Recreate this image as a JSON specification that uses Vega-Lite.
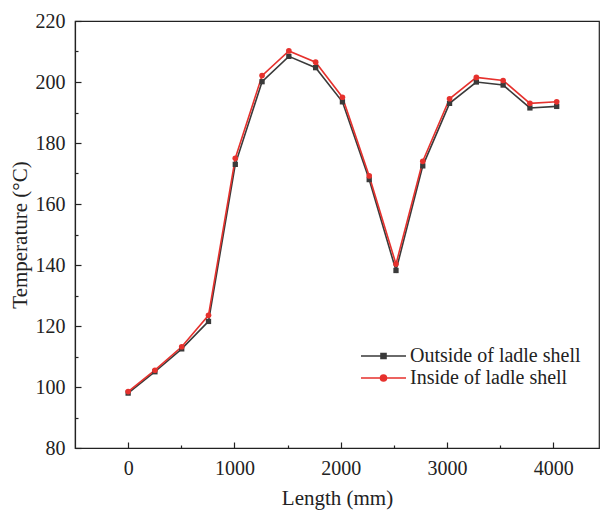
{
  "$schema": "https://vega.github.io/schema/vega-lite/v6.json",
  "width": 524,
  "height": 427,
  "autosize": {"type": "none"},
  "padding": {"left": 75, "top": 21, "right": 8, "bottom": 64},
  "background": "white",
  "config": {
    "view": {"stroke": "#222", "strokeWidth": 1.2},
    "font": "Liberation Serif",
    "axis": {"grid": false, "domainColor": "#222", "tickColor": "#222", "labelColor": "#222", "titleColor": "#222", "labelFont": "Liberation Serif", "titleFont": "Liberation Serif", "labelFontSize": 20, "titleFontSize": 21, "titleFontWeight": "normal", "domainWidth": 1.2, "tickWidth": 1.2}
  },
  "data": {"values": [
    {"x": 0, "s": "Outside of ladle shell", "t": 98.0},
    {"x": 252, "s": "Outside of ladle shell", "t": 105.0},
    {"x": 504, "s": "Outside of ladle shell", "t": 112.5},
    {"x": 756, "s": "Outside of ladle shell", "t": 121.5},
    {"x": 1008, "s": "Outside of ladle shell", "t": 173.0},
    {"x": 1260, "s": "Outside of ladle shell", "t": 200.1},
    {"x": 1512, "s": "Outside of ladle shell", "t": 208.4},
    {"x": 1764, "s": "Outside of ladle shell", "t": 204.7},
    {"x": 2016, "s": "Outside of ladle shell", "t": 193.5},
    {"x": 2268, "s": "Outside of ladle shell", "t": 168.0},
    {"x": 2520, "s": "Outside of ladle shell", "t": 138.2},
    {"x": 2772, "s": "Outside of ladle shell", "t": 172.5},
    {"x": 3024, "s": "Outside of ladle shell", "t": 193.0},
    {"x": 3276, "s": "Outside of ladle shell", "t": 200.0},
    {"x": 3528, "s": "Outside of ladle shell", "t": 199.0},
    {"x": 3780, "s": "Outside of ladle shell", "t": 191.5},
    {"x": 4032, "s": "Outside of ladle shell", "t": 192.0},
    {"x": 0, "s": "Inside of ladle shell", "t": 98.5},
    {"x": 252, "s": "Inside of ladle shell", "t": 105.5},
    {"x": 504, "s": "Inside of ladle shell", "t": 113.2},
    {"x": 756, "s": "Inside of ladle shell", "t": 123.5},
    {"x": 1008, "s": "Inside of ladle shell", "t": 175.0},
    {"x": 1260, "s": "Inside of ladle shell", "t": 202.1},
    {"x": 1512, "s": "Inside of ladle shell", "t": 210.2},
    {"x": 1764, "s": "Inside of ladle shell", "t": 206.5},
    {"x": 2016, "s": "Inside of ladle shell", "t": 195.0},
    {"x": 2268, "s": "Inside of ladle shell", "t": 169.2},
    {"x": 2520, "s": "Inside of ladle shell", "t": 140.3},
    {"x": 2772, "s": "Inside of ladle shell", "t": 174.0},
    {"x": 3024, "s": "Inside of ladle shell", "t": 194.5},
    {"x": 3276, "s": "Inside of ladle shell", "t": 201.5},
    {"x": 3528, "s": "Inside of ladle shell", "t": 200.5},
    {"x": 3780, "s": "Inside of ladle shell", "t": 193.0},
    {"x": 4032, "s": "Inside of ladle shell", "t": 193.5}
  ]},
  "resolve": {"axis": {"x": "independent", "y": "independent"}},
  "layer": [
    {
      "mark": {"type": "line", "strokeWidth": 1.6},
      "encoding": {
        "x": {"field": "x", "type": "quantitative", "scale": {"domain": [-500, 4430], "nice": false, "zero": false},
          "axis": {"orient": "bottom", "values": [0, 1000, 2000, 3000, 4000], "title": "Length (mm)", "tickSize": -6, "labelPadding": 16, "titlePadding": 9, "format": "d"}},
        "y": {"field": "t", "type": "quantitative", "scale": {"domain": [80, 220], "nice": false, "zero": false},
          "axis": {"orient": "left", "values": [80, 100, 120, 140, 160, 180, 200, 220], "title": "Temperature (°C)", "tickSize": -6, "labelPadding": 16, "titlePadding": 5}},
        "color": {"field": "s", "type": "nominal", "sort": ["Outside of ladle shell", "Inside of ladle shell"],
          "scale": {"domain": ["Outside of ladle shell", "Inside of ladle shell"], "range": ["#3a3a3a", "#e6312d"]},
          "legend": {"title": null, "orient": "none", "legendX": 281, "legendY": 325, "labelFontSize": 20, "labelFont": "Liberation Serif", "labelColor": "#222", "labelLimit": 400, "symbolSize": 100, "symbolStrokeWidth": 1.6, "rowPadding": 2, "labelOffset": 34,
            "symbolType": "M-1,0H8",
            "encode": {"symbols": {"update": {
              "shape": {"signal": "datum.value === 'Outside of ladle shell' ? 'M-1,0H8M3,-0.5H4V0.5H3Z' : 'M-1,0H8M4.1,0A0.6,0.6 0 1,1 2.9,0A0.6,0.6 0 1,1 4.1,0Z'"},
              "fill": {"signal": "datum.value === 'Outside of ladle shell' ? '#3a3a3a' : '#e6312d'"}
            }}}}
        }
      }
    },
    {
      "transform": [{"filter": "datum.s === 'Outside of ladle shell'"}],
      "mark": {"type": "point", "filled": true, "opacity": 1, "size": 28, "shape": "square", "color": "#3a3a3a"},
      "encoding": {
        "x": {"field": "x", "type": "quantitative", "axis": null},
        "y": {"field": "t", "type": "quantitative", "axis": null}
      }
    },
    {
      "transform": [{"filter": "datum.s === 'Inside of ladle shell'"}],
      "mark": {"type": "point", "filled": true, "opacity": 1, "size": 32, "shape": "circle", "color": "#e6312d"},
      "encoding": {
        "x": {"field": "x", "type": "quantitative", "axis": null},
        "y": {"field": "t", "type": "quantitative", "axis": null}
      }
    },
    {
      "mark": {"type": "rule", "opacity": 0},
      "encoding": {
        "x": {"field": "x", "type": "quantitative", "axis": {"orient": "bottom", "values": [500, 1500, 2500, 3500], "tickSize": -3, "labels": false, "domain": false, "title": null}},
        "y": {"field": "t", "type": "quantitative", "axis": {"orient": "left", "values": [90, 110, 130, 150, 170, 190, 210], "tickSize": -3, "labels": false, "domain": false, "title": null}}
      }
    }
  ]
}
